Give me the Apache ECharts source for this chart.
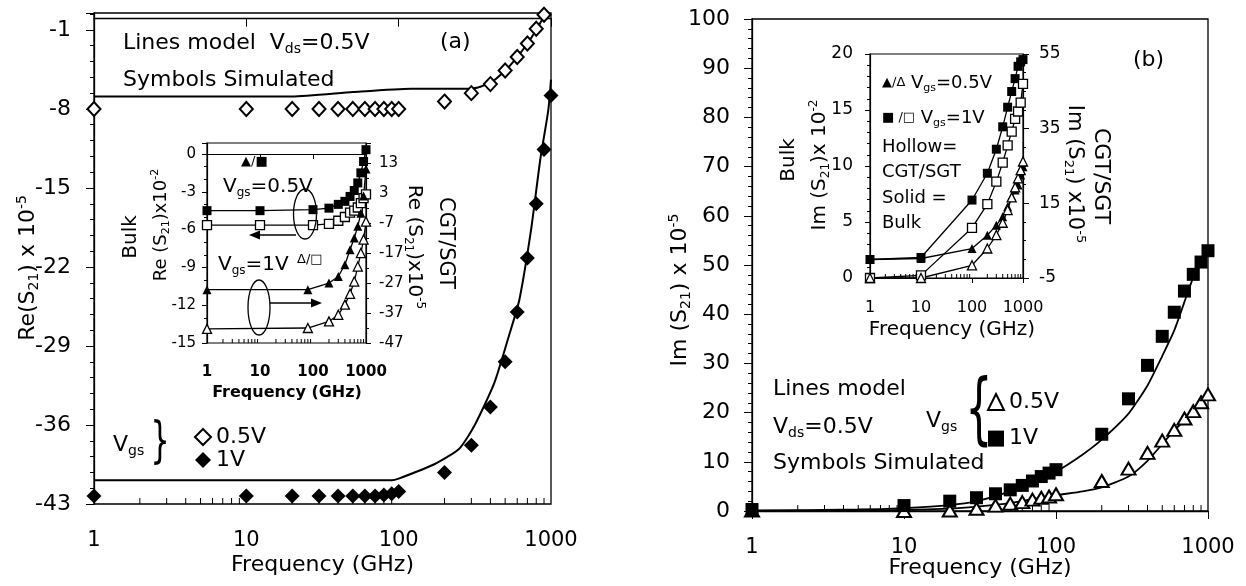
<!DOCTYPE html>
<html><head><meta charset="utf-8">
<script src="https://cdn.jsdelivr.net/npm/echarts@6/dist/echarts.min.js"></script>
<style>html,body{margin:0;padding:0;background:#fff}#c{width:1246px;height:586px}</style>
</head><body><div id="c"></div>
<script>
// ---------- tick labels ----------
const xTickLabels = [1, 10, 100, 1000];
const logMinor = [2,3,4,5,6,7,8,9,20,30,40,50,60,70,80,90,200,300,400,500,600,700,800,900];
const yTicksA = [-43, -36, -29, -22, -15, -8, -1];
const yTicksInAL = [-15, -12, -9, -6, -3, 0];
const yTicksInAR = [-47, -37, -27, -17, -7, 3, 13];
const yTicksB = [0, 10, 20, 30, 40, 50, 60, 70, 80, 90, 100];
const yTicksInBL = [0, 5, 10, 15, 20];
const yTicksInBR = [-5, 15, 35, 55];

// ---------- panel (a): Re(S21) x 1e-5 ----------
const fA05 = [1,10,20,30,40,50,60,70,80,90,100,200,300,400,500,600,700,800,900];
const reSim05 = [-8,-8,-8,-8,-8,-8,-8,-8,-8,-8,-8,-7.35,-6.6,-5.8,-4.6,-3.4,-2.2,-0.9,0.35];
const fA1 = [1,10,20,30,40,50,60,70,80,90,100,200,300,400,500,600,700,800,900,1000];
const reSim1 = [-42.3,-42.3,-42.3,-42.3,-42.3,-42.3,-42.3,-42.3,-42.2,-42.1,-41.9,-40.2,-37.8,-34.4,-30.4,-26.0,-21.2,-16.4,-11.6,-6.8];
const fModA05 = [1,20,50,120,300,400,500,600,700,800,900,1000];
const reMod05 = [-6.9,-6.9,-6.5,-6.2,-6.2,-5.7,-4.6,-3.4,-2.2,-1.0,0.2,1.3];
const fModA1 = [1,90,100,170,250,316,424,535,620,740,850,960,1000];
const reMod1 = [-40.9,-40.9,-40.75,-39.5,-38.1,-36,-32.3,-27.9,-24.9,-18.7,-12.5,-8.1,-5.4];

// inset (a)
const fInSqA = [1,10,100,200,300,400,500,600,700,800,900,1000];
const bulkSqA = [-4.5,-4.5,-4.42,-4.3,-4.0,-3.76,-3.37,-2.9,-2.3,-1.5,-0.6,0.34];
const cgtSqA = [-5.65,-5.65,-5.65,-5.55,-5.3,-5.0,-4.65,-4.5,-4.25,-3.9,-3.5,-3.2];
const fInTriA = [1,80,200,300,400,500,600,700,800,900,1000];
const bulkTriA = [-29.2,-29.2,-27,-24.8,-20.9,-15.9,-12,-8.1,-3.7,2,11];
const cgtTriA = [-42.3,-42,-39.8,-37.6,-34.2,-30.6,-26.5,-21.5,-17,-12.5,-6.5];

// ---------- panel (b): Im(S21) x 1e-5 ----------
const fB = [1,10,20,30,40,50,60,70,80,90,100,200,300,400,500,600,700,800,900,1000];
const imSim1 = [0.3,1.1,2.0,2.7,3.5,4.3,5.2,6.1,7.0,7.7,8.4,15.6,22.8,29.6,35.5,40.4,44.7,48.1,50.6,52.9];
const imSim05 = [0.1,0,0.1,0.45,1.1,1.5,1.8,2.3,2.7,2.95,3.4,6.1,8.6,11.8,14.3,16.5,18.8,20.3,22.1,23.7];
const fModB = [1,5,10,20,30,50,70,100,150,200,300,400,500,600,700,800,900,1000];
const imMod1 = [0.1,0.3,0.6,1.2,2.0,4.0,5.8,8.0,11.5,14.5,19.8,25.5,31.5,36.7,42.5,47.5,50.5,52.5];
const imMod05 = [0,0.1,0.2,0.5,0.9,1.6,2.4,3.2,4.0,4.8,7.0,10.2,13.6,16.4,18.4,20.3,21.9,23.3];

// inset (b)
const fInB = [1,10,100,200,300,400,500,600,700,800,900,1000];
const bulkSqB = [1.65,1.83,6.96,9.35,11.5,13.5,15.25,16.65,17.8,18.9,19.3,19.5];
const cgtSqB = [-5,-4.3,8.4,14.8,20.8,25.9,30.5,34.2,37.6,39.6,42.0,47];
const bulkTriB = [1.65,1.74,2.63,3.82,4.72,5.46,6.36,7.25,7.85,8.3,9.2,9.94];
const cgtTriB = [-5,-5,-1.6,2.9,6.5,9.8,13.2,16.6,19.3,21.7,23.9,26.2];

// ---------- helpers ----------
const FONT = '"DejaVu Sans", sans-serif';
const zip = (xs, ys) => xs.map((x, i) => [x, ys[i]]);
const inList = (list, v) => list.some(t => Math.abs(t - v) < 1e-6);

function logX(gi, o) {
  return {
    type: 'log', logBase: 10, gridIndex: gi, min: 1, max: 1000, splitNumber: 3, z: o.z || 0,
    axisLine: { show: true, lineStyle: { color: '#000', width: o.lw } },
    axisTick: { show: true, length: o.tl, lineStyle: { color: '#000', width: 1 } },
    minorTick: { show: false },
    axisLabel: { show: true, margin: o.margin, fontSize: o.fs, fontWeight: o.fw || 'normal', color: '#000', fontFamily: FONT,
      formatter: v => { const r = Math.round(v); return inList(xTickLabels, r) && Math.abs(v - r) < 1e-3 ? String(r) : ''; } },
    splitLine: { show: false }
  };
}
function valY(gi, o) {
  return {
    type: 'value', gridIndex: gi, min: o.min, max: o.max, interval: o.interval, position: o.pos || 'left', z: o.z || 0,
    axisLine: { show: true, onZero: false, lineStyle: { color: '#000', width: o.lw } },
    axisTick: { show: true, length: o.tl, lineStyle: { color: '#000', width: 1 } },
    minorTick: { show: true, splitNumber: o.minor, length: o.ml, lineStyle: { color: '#000', width: 1 } },
    axisLabel: { show: true, margin: o.margin, fontSize: o.fs, color: '#000', fontFamily: FONT, showMaxLabel: true,
      formatter: v => inList(o.ticks, Math.round(v * 100) / 100) ? String(Math.round(v * 100) / 100) : '' },
    splitLine: { show: false }
  };
}
function minorSeries(xi, yi, ymin, len, z) {
  return {
    type: 'custom', xAxisIndex: xi, yAxisIndex: yi, silent: true, z: z, clip: false,
    data: logMinor.map(v => [v, ymin]),
    renderItem: (params, api) => {
      const p = api.coord([api.value(0), api.value(1)]);
      return { type: 'line', shape: { x1: p[0], y1: p[1], x2: p[0], y2: p[1] - len }, style: { stroke: '#000', lineWidth: 1 } };
    }
  };
}
function T(x, y, text, fs, o) {
  o = o || {};
  const sub = Math.round(fs * 0.62);
  const el = {
    type: 'text', x: x, y: y, rotation: o.rot || 0, z: 100, silent: true,
    style: {
      text: text, fontSize: fs, fontFamily: FONT, fontWeight: o.fw || 'normal', fill: '#000',
      align: o.align || 'left', verticalAlign: 'middle', lineHeight: Math.round(fs * 1.2),
      rich: {
        sub: { fontSize: sub, fontFamily: FONT, fill: '#000', verticalAlign: 'bottom', lineHeight: Math.round(fs * 0.45) },
        sup: { fontSize: sub, fontFamily: FONT, fill: '#000', verticalAlign: 'top', lineHeight: Math.round(fs * 0.45) },
        s: { fontSize: o.sfs || 13, fontFamily: FONT, fill: '#000' },
        n: { fontSize: fs, fontFamily: FONT, fill: '#000' }
      }
    }
  };
  if (o.sx) el.scaleX = o.sx;
  return el;
}
const line = (xi, yi, data, w, z) => ({ type: 'line', xAxisIndex: xi, yAxisIndex: yi, data: data, symbol: 'none', smooth: 0.2,
  lineStyle: { color: '#000', width: w }, z: z, silent: true });
const mline = (name, xi, yi, data, sym, size, filled, z) => ({ type: 'line', name: name, xAxisIndex: xi, yAxisIndex: yi, data: data,
  symbol: sym, symbolSize: size, showAllSymbol: true, lineStyle: { color: '#000', width: 1.3 },
  itemStyle: filled ? { color: '#000', opacity: 1 } : { color: '#fff', borderColor: '#000', borderWidth: 1.3, opacity: 1 }, z: z, silent: true });
const pts = (name, xi, yi, data, sym, size, filled) => ({ type: 'scatter', name: name, xAxisIndex: xi, yAxisIndex: yi, data: data,
  symbol: sym, symbolSize: size,
  itemStyle: filled ? { color: '#000', opacity: 1 } : { color: '#fff', borderColor: '#000', borderWidth: 2, opacity: 1 }, z: 4, silent: true });

const gridBase = { containLabel: false, outerBoundsMode: 'none', show: true, borderColor: '#000' };

const option = {
  animation: false,
  backgroundColor: '#fff',
  grid: [
    Object.assign({}, gridBase, { left: 94, top: 13, width: 457, height: 491, borderWidth: 1.3, backgroundColor: 'transparent' }),
    Object.assign({}, gridBase, { left: 207, top: 143, width: 159, height: 200, borderWidth: 1.2, backgroundColor: '#fff', z: 5 }),
    Object.assign({}, gridBase, { left: 752, top: 19, width: 456, height: 492, borderWidth: 1.3, backgroundColor: 'transparent' }),
    Object.assign({}, gridBase, { left: 870, top: 54, width: 153, height: 224, borderWidth: 1.2, backgroundColor: '#fff', z: 5 })
  ],
  xAxis: [
    logX(0, { lw: 1.3, tl: 8, margin: 26, fs: 21 }),
    logX(1, { lw: 1.2, tl: 5, margin: 22, fs: 15, fw: 'bold', z: 10 }),
    logX(2, { lw: 1.3, tl: 8, margin: 26, fs: 21 }),
    logX(3, { lw: 1.2, tl: 5, margin: 22, fs: 16, z: 10 })
  ],
  yAxis: [
    valY(0, { min: -43, max: 0.5, interval: 7, ticks: yTicksA, lw: 1.3, tl: 8, minor: 5, ml: 4, margin: 23, fs: 22 }),
    valY(1, { min: -15, max: 0.87, interval: 3, ticks: yTicksInAL, lw: 1.2, tl: 5, minor: 3, ml: 3, margin: 11, fs: 15, z: 10 }),
    valY(1, { min: -47, max: 19.7, interval: 10, ticks: yTicksInAR, pos: 'right', lw: 1.2, tl: 5, minor: 2, ml: 3, margin: 13, fs: 15, z: 10 }),
    valY(2, { min: 0, max: 100, interval: 10, ticks: yTicksB, lw: 1.3, tl: 8, minor: 5, ml: 4, margin: 22, fs: 22 }),
    valY(3, { min: 0, max: 20, interval: 5, ticks: yTicksInBL, lw: 1.2, tl: 5, minor: 5, ml: 3, margin: 17, fs: 17, z: 10 }),
    valY(3, { min: -5, max: 55, interval: 20, ticks: yTicksInBR, pos: 'right', lw: 1.2, tl: 6, minor: 4, ml: 3, margin: 16, fs: 17, z: 10 })
  ],
  legend: [
    { data: ['a05', 'a1'], formatter: n => ({ a05: '0.5V', a1: '1V' })[n], orient: 'vertical', left: 194, top: 426, padding: 0,
      itemWidth: 16, itemHeight: 16, itemGap: 1, selectedMode: false,
      textStyle: { fontSize: 22, fontFamily: FONT, color: '#000', lineHeight: 22 } },
    { data: ['b05', 'b1'], formatter: n => ({ b05: '0.5V', b1: '1V' })[n], orient: 'vertical', left: 987, top: 391, padding: 0,
      itemWidth: 16, itemHeight: 16, itemGap: 14.6, selectedMode: false,
      textStyle: { fontSize: 22, fontFamily: FONT, color: '#000', lineHeight: 22 } }
  ],
  series: [
    // panel (a)
    line(0, 0, zip(fModA05, reMod05), 2, 2),
    line(0, 0, zip(fModA1, reMod1), 2, 2),
    pts('a05', 0, 0, zip(fA05, reSim05), 'diamond', [13, 14], false),
    pts('a1', 0, 0, zip(fA1, reSim1), 'diamond', [15, 15], true),
    minorSeries(0, 0, -43, 6, 3),
    // inset (a)
    mline('iaBS', 1, 1, zip(fInSqA, bulkSqA), 'rect', 9, true, 12),
    mline('iaCS', 1, 1, zip(fInSqA, cgtSqA), 'rect', 9, false, 12),
    mline('iaBT', 1, 2, zip(fInTriA, bulkTriA), 'triangle', 9, true, 12),
    mline('iaCT', 1, 2, zip(fInTriA, cgtTriA), 'triangle', 9, false, 12),
    minorSeries(1, 1, -15, 4, 12),
    // panel (b)
    line(2, 3, zip(fModB, imMod1), 1.8, 2),
    line(2, 3, zip(fModB, imMod05), 1.8, 2),
    pts('b05', 2, 3, zip(fB, imSim05), 'triangle', [14, 12], false),
    pts('b1', 2, 3, zip(fB, imSim1), 'rect', 13, true),
    minorSeries(2, 3, 0, 6, 3),
    // inset (b)
    mline('ibBS', 3, 4, zip(fInB, bulkSqB), 'rect', 9, true, 12),
    mline('ibCS', 3, 5, zip(fInB, cgtSqB), 'rect', 9, false, 12),
    mline('ibBT', 3, 4, zip(fInB, bulkTriB), 'triangle', 9, true, 12),
    mline('ibCT', 3, 5, zip(fInB, cgtTriB), 'triangle', 9, false, 12),
    minorSeries(3, 4, 0, 4, 12)
  ],
  graphic: { elements: [
    // panel (a) texts
    T(123, 43, 'Lines model  V{sub|ds}=0.5V', 22),
    T(440, 42, '(a)', 22),
    T(123, 80, 'Symbols Simulated', 22),
    T(113, 445, 'V{sub|gs}', 22),
    T(160, 444, '}', 50, { align: 'center', sx: 0.6 }),
    T(28, 268, 'Re(S{sub|21}) x 10{sup|-5}', 22, { align: 'center', rot: Math.PI / 2 }),
    T(322.5, 565, 'Frequency (GHz)', 22, { align: 'center' }),
    // inset (a)
    T(241, 162, '▲/■', 13),
    T(223, 187, 'V{sub|gs}=0.5V', 20),
    T(218, 265, 'V{sub|gs}=1V', 20),
    T(297, 260, 'Δ/□', 13),
    T(131, 237, 'Bulk', 20, { align: 'center', rot: Math.PI / 2 }),
    T(161, 225, 'Re (S{sub|21})x10{sup|-2}', 18, { align: 'center', rot: Math.PI / 2 }),
    T(414, 247, 'Re (S{sub|21})x10{sup|-5}', 20, { align: 'center', rot: -Math.PI / 2 }),
    T(445, 243, 'CGT/SGT', 21, { align: 'center', rot: -Math.PI / 2 }),
    T(287, 393, 'Frequency (GHz)', 16, { align: 'center', fw: 'bold' }),
    { type: 'ellipse', z: 100, silent: true, shape: { cx: 305, cy: 214, rx: 11.5, ry: 25 }, style: { fill: 'none', stroke: '#000', lineWidth: 1.3 } },
    { type: 'ellipse', z: 100, silent: true, shape: { cx: 259, cy: 307.5, rx: 11, ry: 27.5 }, style: { fill: 'none', stroke: '#000', lineWidth: 1.3 } },
    { type: 'line', z: 100, silent: true, shape: { x1: 296, y1: 235, x2: 258, y2: 235 }, style: { stroke: '#000', lineWidth: 1.3 } },
    { type: 'polygon', z: 100, silent: true, shape: { points: [[249, 235], [260, 230.5], [260, 239.5]] }, style: { fill: '#000' } },
    { type: 'line', z: 100, silent: true, shape: { x1: 270, y1: 303, x2: 312, y2: 303 }, style: { stroke: '#000', lineWidth: 1.3 } },
    { type: 'polygon', z: 100, silent: true, shape: { points: [[322, 303], [311, 298.5], [311, 307.5]] }, style: { fill: '#000' } },
    // panel (b) texts
    T(1133, 60, '(b)', 22),
    T(773, 389, 'Lines model', 22),
    T(773, 427, 'V{sub|ds}=0.5V', 22),
    T(773, 463, 'Symbols Simulated', 22),
    T(926, 421, 'V{sub|gs}', 22),
    T(979, 415, '{', 78, { align: 'center', sx: 0.55 }),
    T(680, 290, 'Im (S{sub|21}) x 10{sup|-5}', 22, { align: 'center', rot: Math.PI / 2 }),
    T(980, 568, 'Frequency (GHz)', 22, { align: 'center' }),
    // inset (b)
    T(882, 83, '{s|▲/Δ} V{sub|gs}=0.5V', 18),
    T(882, 118, '{s|■ /□} V{sub|gs}=1V', 18),
    T(882, 147, 'Hollow=', 18),
    T(882, 172, 'CGT/SGT', 18),
    T(882, 198, 'Solid =', 18),
    T(882, 223, 'Bulk', 18),
    T(789, 160, 'Bulk', 20, { align: 'center', rot: Math.PI / 2 }),
    T(820, 165, 'Im (S{sub|21})x 10{sup|-2}', 20, { align: 'center', rot: Math.PI / 2 }),
    T(1074, 174, 'Im (S{sub|21}) x10{sup|-5}', 21, { align: 'center', rot: -Math.PI / 2 }),
    T(1101, 176, 'CGT/SGT', 22, { align: 'center', rot: -Math.PI / 2 }),
    T(952, 330, 'Frequency (GHz)', 20, { align: 'center' })
  ] }
};

const chart = echarts.init(document.getElementById('c'), null, { renderer: 'canvas' });
chart.setOption(option);
</script></body></html>
